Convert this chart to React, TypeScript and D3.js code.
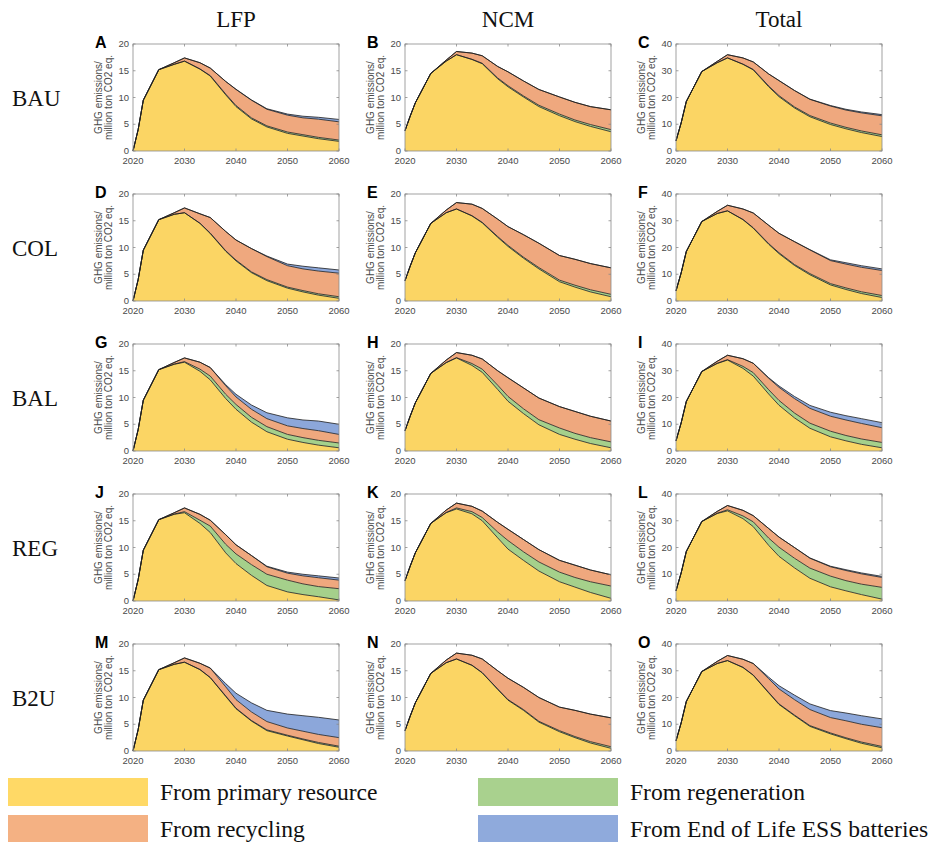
import React from "react";
import * as d3 from "d3";

// ---------- categories / labels ----------
const years = [2020, 2021, 2022, 2025, 2028, 2030, 2033, 2035, 2038, 2040, 2043, 2046, 2050, 2053, 2056, 2060];
const scenarios = ["BAU", "COL", "BAL", "REG", "B2U"];
const columns = ["LFP", "NCM", "Total"];
const panelLetters = ["A", "B", "C", "D", "E", "F", "G", "H", "I", "J", "K", "L", "M", "N", "O"];
const xTicks = [2020, 2030, 2040, 2050, 2060];
const yTicksCell = [0, 5, 10, 15, 20];
const yTicksTotal = [0, 10, 20, 30, 40];
const legendLabels = ["From primary resource", "From recycling", "From regeneration", "From End of Life ESS batteries"];
const zeros = [0, 0, 0, 0, 0, 0, 0, 0, 0, 0, 0, 0, 0, 0, 0, 0];

// ---------- BAU ----------
const bauLfpPrimary = [0, 4, 9.5, 15.2, 16.2, 16.8, 15.3, 14, 10.5, 8.3, 6, 4.5, 3.3, 2.8, 2.3, 1.8];
const bauLfpRegen = [0, 0, 0, 0, 0, 0, 0.05, 0.1, 0.15, 0.2, 0.2, 0.2, 0.25, 0.25, 0.25, 0.25];
const bauLfpRecycling = [0, 0, 0, 0, 0.3, 0.6, 1.15, 1.4, 2.35, 3.0, 3.3, 3.1, 3.15, 3.15, 3.4, 3.4];
const bauLfpEss = [0, 0, 0, 0, 0, 0, 0, 0, 0, 0.05, 0.05, 0.1, 0.2, 0.3, 0.35, 0.45];
const bauNcmPrimary = [3.8, 6.5, 9, 14.5, 16.8, 18.0, 17.1, 16.3, 13.5, 12.0, 10.1, 8.3, 6.6, 5.5, 4.6, 3.6];
const bauNcmRegen = [0, 0, 0, 0, 0, 0, 0.05, 0.1, 0.15, 0.2, 0.2, 0.25, 0.3, 0.3, 0.35, 0.4];
const bauNcmRecycling = [0, 0, 0, 0, 0.2, 0.6, 1.15, 1.4, 2.15, 2.6, 2.8, 2.95, 3.2, 3.3, 3.35, 3.7];
const bauTotPrimary = [3.8, 10.5, 18.5, 29.7, 33.0, 34.8, 32.4, 30.3, 24.0, 20.3, 16.1, 12.8, 9.9, 8.3, 6.9, 5.4];
const bauTotRegen = [0, 0, 0, 0, 0, 0, 0.1, 0.2, 0.3, 0.4, 0.4, 0.45, 0.55, 0.55, 0.6, 0.65];
const bauTotRecycling = [0, 0, 0, 0, 0.5, 1.2, 2.3, 2.8, 4.5, 5.6, 6.1, 6.05, 6.35, 6.45, 6.75, 7.1];
const bauTotEss = [0, 0, 0, 0, 0, 0, 0, 0, 0, 0.05, 0.05, 0.1, 0.2, 0.3, 0.35, 0.45];

// ---------- COL ----------
const colLfpPrimary = [0, 4, 9.5, 15.2, 16.2, 16.5, 14.5, 12.6, 9.3, 7.5, 5.3, 3.8, 2.4, 1.7, 1.1, 0.5];
const colLfpRegen = [0, 0, 0, 0, 0, 0, 0.05, 0.1, 0.1, 0.15, 0.15, 0.2, 0.2, 0.25, 0.25, 0.3];
const colLfpRecycling = [0, 0, 0, 0, 0.3, 0.9, 1.75, 2.9, 3.6, 3.75, 4.35, 4.3, 4.0, 4.05, 4.25, 4.4];
const colLfpEss = [0, 0, 0, 0, 0, 0, 0, 0, 0, 0, 0, 0.1, 0.3, 0.5, 0.6, 0.6];
const colNcmPrimary = [3.8, 6.5, 9, 14.5, 16.5, 17.2, 15.9, 14.6, 11.9, 10.2, 8.0, 6.0, 3.6, 2.6, 1.7, 0.8];
const colNcmRegen = [0, 0, 0, 0, 0, 0, 0.05, 0.1, 0.15, 0.2, 0.2, 0.25, 0.3, 0.35, 0.4, 0.45];
const colNcmRecycling = [0, 0, 0, 0, 0.5, 1.2, 2.15, 2.6, 3.25, 3.5, 4.2, 4.55, 4.6, 4.85, 4.9, 4.95];
const colTotPrimary = [3.8, 10.5, 18.5, 29.7, 32.7, 33.7, 30.4, 27.2, 21.2, 17.7, 13.3, 9.8, 6.0, 4.3, 2.8, 1.3];
const colTotRegen = [0, 0, 0, 0, 0, 0, 0.1, 0.2, 0.25, 0.35, 0.35, 0.45, 0.5, 0.6, 0.65, 0.75];
const colTotRecycling = [0, 0, 0, 0, 0.8, 2.1, 3.9, 5.5, 6.85, 7.25, 8.55, 8.85, 8.6, 8.9, 9.15, 9.35];
const colTotEss = [0, 0, 0, 0, 0, 0, 0, 0, 0, 0, 0, 0.1, 0.3, 0.5, 0.6, 0.6];

// ---------- BAL ----------
const balLfpPrimary = [0, 4, 9.5, 15.2, 16.2, 16.6, 14.9, 13.3, 9.8, 7.8, 5.4, 3.6, 2.2, 1.6, 1.1, 0.6];
const balLfpRegen = [0, 0, 0, 0, 0.05, 0.1, 0.4, 0.7, 0.8, 0.9, 0.9, 0.95, 0.9, 0.9, 0.9, 0.9];
const balLfpRecycling = [0, 0, 0, 0, 0.3, 0.7, 1.3, 1.6, 1.6, 1.4, 1.5, 1.5, 1.6, 1.7, 1.8, 1.6];
const balLfpEss = [0, 0, 0, 0, 0, 0, 0, 0, 0.2, 0.5, 0.8, 1.1, 1.5, 1.6, 1.8, 1.9];
const balNcmPrimary = [3.8, 6.5, 9, 14.5, 16.5, 17.4, 16.0, 14.7, 11.5, 9.3, 7.0, 4.9, 3.1, 2.2, 1.4, 0.6];
const balNcmRegen = [0, 0, 0, 0, 0.05, 0.05, 0.35, 0.6, 0.8, 0.9, 0.9, 0.95, 1.2, 1.1, 1.1, 1.1];
const balNcmRecycling = [0, 0, 0, 0, 0.45, 0.95, 1.55, 1.9, 2.7, 3.5, 3.9, 4.05, 4.0, 4.1, 4.0, 3.9];
const balTotPrimary = [3.8, 10.5, 18.5, 29.7, 32.7, 34.0, 30.9, 28.0, 21.3, 17.1, 12.4, 8.5, 5.3, 3.8, 2.5, 1.2];
const balTotRegen = [0, 0, 0, 0, 0.1, 0.15, 0.75, 1.3, 1.6, 1.8, 1.8, 1.9, 2.1, 2.0, 2.0, 2.0];
const balTotRecycling = [0, 0, 0, 0, 0.75, 1.65, 2.85, 3.5, 4.3, 4.9, 5.4, 5.55, 5.6, 5.8, 5.8, 5.5];
const balTotEss = [0, 0, 0, 0, 0, 0, 0, 0, 0.2, 0.5, 0.8, 1.1, 1.5, 1.6, 1.8, 1.9];

// ---------- REG ----------
const regLfpPrimary = [0, 4, 9.5, 15.2, 16.2, 16.5, 14.5, 12.8, 9.0, 7.0, 4.8, 2.9, 1.7, 1.2, 0.8, 0.2];
const regLfpRegen = [0, 0, 0, 0, 0.05, 0.2, 0.6, 1.2, 1.6, 1.8, 2.0, 2.1, 2.2, 2.0, 1.9, 2.1];
const regLfpRecycling = [0, 0, 0, 0, 0.25, 0.7, 1.1, 1.1, 1.8, 1.7, 1.7, 1.4, 1.3, 1.5, 1.65, 1.6];
const regLfpEss = [0, 0, 0, 0, 0, 0, 0, 0, 0, 0, 0, 0.1, 0.2, 0.3, 0.35, 0.4];
const regNcmPrimary = [3.8, 6.5, 9, 14.5, 16.5, 17.2, 16.3, 15, 11.8, 9.7, 7.6, 5.6, 3.6, 2.6, 1.6, 0.5];
const regNcmRegen = [0, 0, 0, 0, 0.05, 0.2, 0.4, 0.6, 1.1, 1.6, 1.6, 1.7, 1.8, 1.8, 2.0, 2.3];
const regNcmRecycling = [0, 0, 0, 0, 0.45, 0.9, 1.0, 1.2, 1.8, 2.1, 2.3, 2.3, 2.2, 2.3, 2.2, 2.1];
const regTotPrimary = [3.8, 10.5, 18.5, 29.7, 32.7, 33.7, 30.8, 27.8, 20.8, 16.7, 12.4, 8.5, 5.3, 3.8, 2.4, 0.7];
const regTotRegen = [0, 0, 0, 0, 0.1, 0.4, 1.0, 1.8, 2.7, 3.4, 3.6, 3.8, 4.0, 3.8, 3.9, 4.4];
const regTotRecycling = [0, 0, 0, 0, 0.7, 1.6, 2.1, 2.3, 3.6, 3.8, 4.0, 3.7, 3.5, 3.8, 3.85, 3.7];
const regTotEss = [0, 0, 0, 0, 0, 0, 0, 0, 0, 0, 0, 0.1, 0.2, 0.3, 0.35, 0.4];

// ---------- B2U ----------
const b2uLfpPrimary = [0, 4, 9.5, 15.2, 16.2, 16.6, 15.2, 13.7, 10.2, 7.9, 5.6, 3.8, 2.8, 2.1, 1.4, 0.7];
const b2uLfpRegen = [0, 0, 0, 0, 0, 0, 0.05, 0.05, 0.1, 0.1, 0.1, 0.15, 0.15, 0.15, 0.2, 0.2];
const b2uLfpRecycling = [0, 0, 0, 0, 0.3, 0.8, 1.15, 1.75, 1.7, 1.6, 1.6, 1.55, 1.35, 1.45, 1.5, 1.6];
const b2uLfpEss = [0, 0, 0, 0, 0, 0, 0, 0, 0.6, 1.2, 1.7, 2.1, 2.6, 2.9, 3.2, 3.3];
const b2uNcmPrimary = [3.8, 6.5, 9, 14.5, 16.5, 17.2, 16.0, 14.6, 11.5, 9.5, 7.6, 5.4, 3.6, 2.5, 1.5, 0.5];
const b2uNcmRegen = [0, 0, 0, 0, 0, 0, 0.05, 0.05, 0.1, 0.1, 0.15, 0.15, 0.2, 0.2, 0.25, 0.3];
const b2uNcmRecycling = [0, 0, 0, 0, 0.5, 1.1, 1.85, 2.55, 3.4, 4.0, 4.15, 4.45, 4.4, 4.9, 5.15, 5.4];
const b2uTotPrimary = [3.8, 10.5, 18.5, 29.7, 32.7, 33.8, 31.2, 28.3, 21.7, 17.4, 13.2, 9.2, 6.4, 4.6, 2.9, 1.2];
const b2uTotRegen = [0, 0, 0, 0, 0, 0, 0.1, 0.1, 0.2, 0.2, 0.25, 0.3, 0.35, 0.35, 0.45, 0.5];
const b2uTotRecycling = [0, 0, 0, 0, 0.8, 1.9, 3.0, 4.3, 5.1, 5.6, 5.75, 6.0, 5.75, 6.35, 6.65, 7.0];
const b2uTotEss = [0, 0, 0, 0, 0, 0, 0, 0, 0.6, 1.2, 1.7, 2.1, 2.6, 2.9, 3.2, 3.3];

// panels: [primary, regeneration, recycling, ESS]
const panelSeries = [
  [bauLfpPrimary, bauLfpRegen, bauLfpRecycling, bauLfpEss],
  [bauNcmPrimary, bauNcmRegen, bauNcmRecycling, zeros],
  [bauTotPrimary, bauTotRegen, bauTotRecycling, bauTotEss],
  [colLfpPrimary, colLfpRegen, colLfpRecycling, colLfpEss],
  [colNcmPrimary, colNcmRegen, colNcmRecycling, zeros],
  [colTotPrimary, colTotRegen, colTotRecycling, colTotEss],
  [balLfpPrimary, balLfpRegen, balLfpRecycling, balLfpEss],
  [balNcmPrimary, balNcmRegen, balNcmRecycling, zeros],
  [balTotPrimary, balTotRegen, balTotRecycling, balTotEss],
  [regLfpPrimary, regLfpRegen, regLfpRecycling, regLfpEss],
  [regNcmPrimary, regNcmRegen, regNcmRecycling, zeros],
  [regTotPrimary, regTotRegen, regTotRecycling, regTotEss],
  [b2uLfpPrimary, b2uLfpRegen, b2uLfpRecycling, b2uLfpEss],
  [b2uNcmPrimary, b2uNcmRegen, b2uNcmRecycling, zeros],
  [b2uTotPrimary, b2uTotRegen, b2uTotRecycling, b2uTotEss],
];

const keys = ["primary", "regen", "recycling", "ess"];
const fillColors = ["#FBD564", "#A5D08B", "#EFA87E", "#8CA7DA"];
const legendColors = ["#FFD966", "#F4B183", "#A9D18E", "#8FAADC"];

const colLeft = [133, 405, 676];
const rowTop = [44, 194, 344, 494, 644];
const PW = 206;
const PH = 107;

const sans = "Arial, 'Liberation Sans', Helvetica, sans-serif";
const serif = "'Times New Roman', 'Liberation Serif', serif";

function Panel({ idx }: { idx: number }) {
  const r = Math.floor(idx / 3);
  const c = idx % 3;
  const left = colLeft[c];
  const top = rowTop[r];
  const isTotal = c === 2;
  const yTicks = isTotal ? yTicksTotal : yTicksCell;
  const x = d3.scaleLinear().domain([2020, 2060]).range([left, left + PW]);
  const y = d3.scaleLinear().domain([0, yTicks[yTicks.length - 1]]).range([top + PH, top]);
  const series = panelSeries[idx];
  const rows = years.map((yr, i) => {
    const o: any = { year: yr };
    keys.forEach((k, j) => (o[k] = series[j][i]));
    return o;
  });
  const stacked = d3.stack().keys(keys)(rows);
  const area = d3
    .area<any>()
    .x((d) => x(d.data.year))
    .y0((d) => y(d[0]))
    .y1((d) => y(d[1]));
  const topLine = d3
    .line<any>()
    .x((d) => x(d.data.year))
    .y((d) => y(d[1]));
  const axisColor = "#8a8a8a";
  const tickColor = "#4a4a4a";
  return (
    <g>
      {stacked.map((s, i) => (
        <path key={"a" + i} d={area(s as any) || ""} fill={fillColors[i]} stroke="none" />
      ))}
      {stacked.map((s, i) => (
        <path key={"l" + i} d={topLine(s as any) || ""} fill="none" stroke="#1e1e1e" strokeWidth={0.8} />
      ))}
      <rect x={left} y={top} width={PW} height={PH} fill="none" stroke={axisColor} strokeWidth={0.8} />
      {xTicks.map((t) => (
        <g key={"xt" + t}>
          <line x1={x(t)} x2={x(t)} y1={top + PH} y2={top + PH - 2.5} stroke={axisColor} strokeWidth={0.8} />
          <line x1={x(t)} x2={x(t)} y1={top} y2={top + 2.5} stroke={axisColor} strokeWidth={0.8} />
          <text x={x(t)} y={top + PH + 13} textAnchor="middle" fontFamily={sans} fontSize={9.5} fill={tickColor}>
            {t}
          </text>
        </g>
      ))}
      {yTicks.map((t) => (
        <g key={"yt" + t}>
          <line x1={left} x2={left + 2.5} y1={y(t)} y2={y(t)} stroke={axisColor} strokeWidth={0.8} />
          <line x1={left + PW} x2={left + PW - 2.5} y1={y(t)} y2={y(t)} stroke={axisColor} strokeWidth={0.8} />
          <text x={left - 4} y={y(t) + 3} textAnchor="end" fontFamily={sans} fontSize={9.5} fill={tickColor}>
            {t}
          </text>
        </g>
      ))}
      <g transform={`translate(${left - 31},${top + PH / 2}) rotate(-90)`}>
        <text x={0} y={0} textAnchor="middle" fontFamily={sans} fontSize={10} fill={tickColor}>
          GHG emissions/
        </text>
        <text x={0} y={10} textAnchor="middle" fontFamily={sans} fontSize={10} fill={tickColor}>
          million ton CO2 eq.
        </text>
      </g>
      <text x={left - 38} y={top + 4} fontFamily={sans} fontWeight="bold" fontSize={16} fill="#000">
        {panelLetters[idx]}
      </text>
    </g>
  );
}

export default function App() {
  const legendPos = [
    { x: 8, y: 778 },
    { x: 8, y: 815 },
    { x: 478, y: 778 },
    { x: 478, y: 815 },
  ];
  return (
    <svg
      width={931}
      height={842}
      style={{ position: "absolute", left: 0, top: 0, background: "#fff" }}
    >
      <rect x={0} y={0} width={931} height={842} fill="#fff" />
      {columns.map((c, i) => (
        <text key={c} x={colLeft[i] + PW / 2} y={27} textAnchor="middle" fontFamily={serif} fontSize={23} fill="#111">
          {c}
        </text>
      ))}
      {scenarios.map((s, i) => (
        <text key={s} x={12} y={rowTop[i] + PH / 2 + 8} fontFamily={serif} fontSize={23} fill="#111">
          {s}
        </text>
      ))}
      {panelLetters.map((_, i) => (
        <Panel key={i} idx={i} />
      ))}
      {legendLabels.map((lab, i) => (
        <g key={lab}>
          <rect x={legendPos[i].x} y={legendPos[i].y} width={140} height={28} fill={legendColors[i]} />
          <text x={legendPos[i].x + 152} y={legendPos[i].y + 22} fontFamily={serif} fontSize={23.6} fill="#111">
            {lab}
          </text>
        </g>
      ))}
    </svg>
  );
}
